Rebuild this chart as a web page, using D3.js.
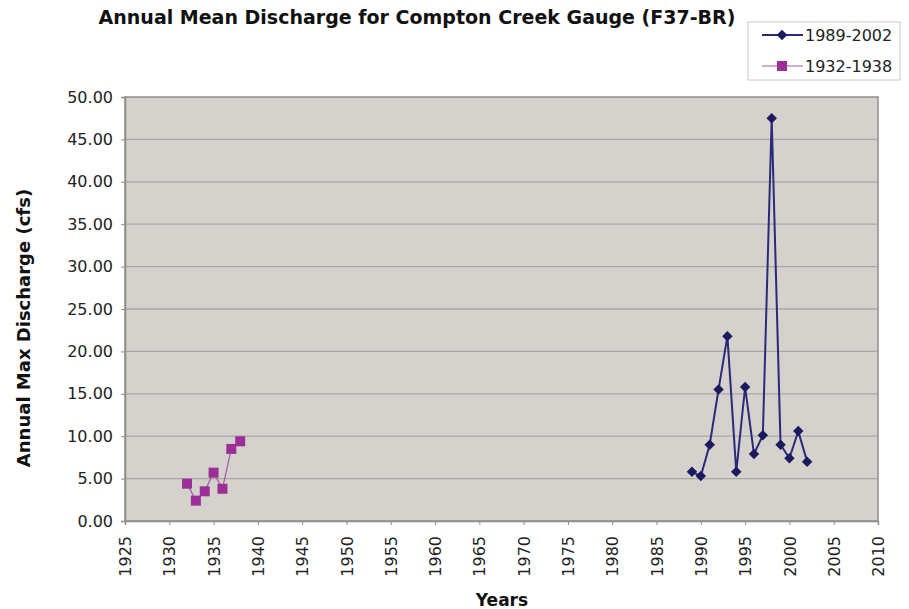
<!DOCTYPE html>
<html>
<head>
<meta charset="utf-8">
<script src="https://cdn.jsdelivr.net/npm/d3@7"></script>
<style>
  body { margin: 0; background: #fff; }
  text { font-family: "DejaVu Sans", Verdana, sans-serif; }
</style>
</head>
<body>
<svg id="chart" width="909" height="609"></svg>
<script>
const recentYears = [1989, 1990, 1991, 1992, 1993, 1994, 1995, 1996, 1997, 1998, 1999, 2000, 2001, 2002];
const recentValues = [5.8, 5.3, 9.0, 15.5, 21.8, 5.8, 15.8, 7.9, 10.1, 47.5, 9.0, 7.4, 10.6, 7.0];
const earlyYears = [1932, 1933, 1934, 1935, 1936, 1937, 1938];
const earlyValues = [4.4, 2.4, 3.5, 5.7, 3.8, 8.5, 9.4];
const seriesNames = ["1989-2002", "1932-1938"];
const xTicks = d3.range(1925, 2011, 5);
const yTicks = d3.range(0, 50.1, 5);

const svg = d3.select("#chart");
const margin = { top: 97, right: 31, bottom: 88, left: 125 };
const width = 909 - margin.left - margin.right;
const height = 609 - margin.top - margin.bottom;

const x = d3.scaleLinear().domain([1925, 2010]).range([0, width]);
const y = d3.scaleLinear().domain([0, 50]).range([height, 0]);

const g = svg.append("g").attr("transform", `translate(${margin.left},${margin.top})`);

// plot area
g.append("rect")
  .attr("width", width)
  .attr("height", height)
  .attr("fill", "#d5d2cd")
  .attr("stroke", "#8f8d8a")
  .attr("stroke-width", 1.5);

// gridlines
g.append("g")
  .selectAll("line")
  .data(yTicks.filter((d) => d > 0 && d < 50))
  .join("line")
  .attr("x1", 0)
  .attr("x2", width)
  .attr("y1", (d) => y(d))
  .attr("y2", (d) => y(d))
  .attr("stroke", "#a9a7a3")
  .attr("stroke-width", 1.3);

// axes
const yAxis = g.append("g")
  .call(d3.axisLeft(y).tickValues(yTicks).tickFormat(d3.format(".2f")).tickSize(4).tickPadding(8));
const xAxis = g.append("g")
  .attr("transform", `translate(0,${height})`)
  .call(d3.axisBottom(x).tickValues(xTicks).tickFormat(d3.format("d")).tickSize(4));

[xAxis, yAxis].forEach((a) => {
  a.select(".domain").attr("stroke", "#8f8d8a").attr("stroke-width", 1.5);
  a.selectAll(".tick line").attr("stroke", "#8f8d8a");
  a.selectAll("text")
    .attr("fill", "#222")
    .style("font-family", "'DejaVu Sans', sans-serif")
    .style("font-size", "16px");
});

xAxis.selectAll("text")
  .attr("transform", "rotate(-90)")
  .attr("text-anchor", "end")
  .attr("x", -15)
  .attr("y", 0)
  .attr("dy", "0.35em");

// series lines
const line = d3.line().x((d) => x(d[0])).y((d) => y(d[1]));
const recent = recentYears.map((yr, i) => [yr, recentValues[i]]);
const early = earlyYears.map((yr, i) => [yr, earlyValues[i]]);

g.append("path")
  .datum(early)
  .attr("d", line)
  .attr("fill", "none")
  .attr("stroke", "#a35aa3")
  .attr("stroke-width", 1.2);

g.selectAll(".early")
  .data(early)
  .join("rect")
  .attr("class", "early")
  .attr("x", (d) => x(d[0]) - 5)
  .attr("y", (d) => y(d[1]) - 5)
  .attr("width", 10)
  .attr("height", 10)
  .attr("fill", "#9b2f96");

g.append("path")
  .datum(recent)
  .attr("d", line)
  .attr("fill", "none")
  .attr("stroke", "#2c2a78")
  .attr("stroke-width", 2);

g.selectAll(".recent")
  .data(recent)
  .join("path")
  .attr("class", "recent")
  .attr("transform", (d) => `translate(${x(d[0])},${y(d[1])})`)
  .attr("d", d3.symbol(d3.symbolDiamond2, 70))
  .attr("fill", "#1c1a5e");

// titles
svg.append("text")
  .attr("x", 417)
  .attr("y", 24)
  .attr("text-anchor", "middle")
  .style("font-size", "19px")
  .style("font-weight", "bold")
  .attr("fill", "#111")
  .text("Annual Mean Discharge for Compton Creek Gauge (F37-BR)");

svg.append("text")
  .attr("x", 502)
  .attr("y", 606)
  .attr("text-anchor", "middle")
  .style("font-size", "17px")
  .style("font-weight", "bold")
  .attr("fill", "#111")
  .text("Years");

svg.append("text")
  .attr("transform", "translate(30,328) rotate(-90)")
  .attr("text-anchor", "middle")
  .style("font-size", "18px")
  .style("font-weight", "bold")
  .attr("fill", "#111")
  .text("Annual Max Discharge (cfs)");

// legend
const legend = svg.append("g").attr("transform", "translate(748,22)");
legend.append("rect")
  .attr("width", 152)
  .attr("height", 58)
  .attr("fill", "#fff")
  .attr("stroke", "#c8c8c8");

const legendItems = legend.selectAll(".item")
  .data(seriesNames)
  .join("g")
  .attr("class", "item")
  .attr("transform", (d, i) => `translate(14,${13 + i * 31})`);

legendItems.append("line")
  .attr("x1", 0)
  .attr("x2", 41)
  .attr("stroke", (d, i) => (i === 0 ? "#2c2a78" : "#a35aa3"))
  .attr("stroke-width", (d, i) => (i === 0 ? 2 : 1.2));

legendItems.each(function (d, i) {
  const item = d3.select(this);
  if (i === 0) {
    item.append("path")
      .attr("transform", "translate(20,0)")
      .attr("d", d3.symbol(d3.symbolDiamond2, 70))
      .attr("fill", "#1c1a5e");
  } else {
    item.append("rect")
      .attr("x", 15)
      .attr("y", -5)
      .attr("width", 10)
      .attr("height", 10)
      .attr("fill", "#9b2f96");
  }
});

legendItems.append("text")
  .attr("x", 43)
  .attr("dy", "0.35em")
  .style("font-size", "16px")
  .attr("fill", "#222")
  .text((d) => d);
</script>
</body>
</html>
